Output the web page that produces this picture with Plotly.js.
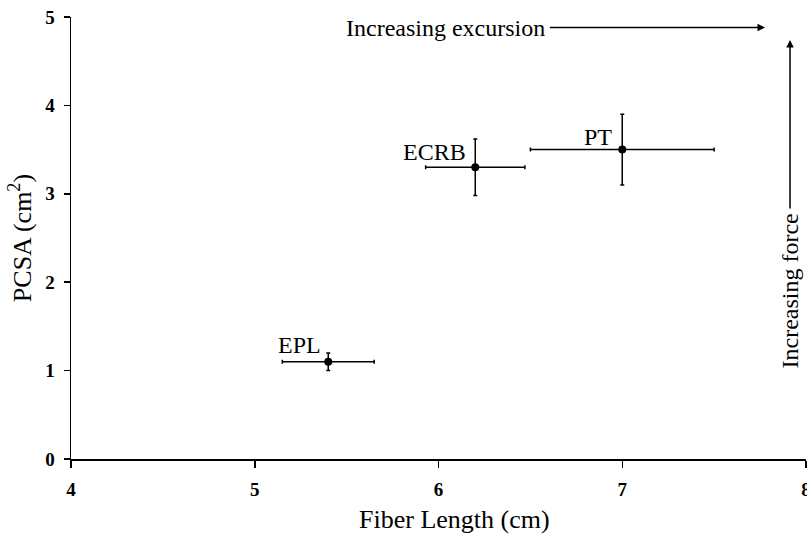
<!DOCTYPE html>
<html>
<head>
<meta charset="utf-8">
<script src="https://cdn.plot.ly/plotly-3.0.1.min.js"></script>
<style>html,body{margin:0;padding:0;background:#fff;}#chart{width:807px;height:535px;}</style>
</head>
<body>
<div id="chart"></div>
<script>
// Data
const muscles = ["EPL", "ECRB", "PT"];
const fiberLength = [5.4, 6.2, 7.0];
const fiberLengthErr = [0.25, 0.27, 0.5];
const pcsa = [1.1, 3.3, 3.5];
const pcsaErr = [0.1, 0.32, 0.4];
const xTicks = [4, 5, 6, 7, 8];
const yTicks = [0, 1, 2, 3, 4, 5];
const xTitle = "Fiber Length (cm)";
const yTitle = "PCSA (cm<sup>2</sup>)";

const FONT = "Liberation Serif, Times New Roman, serif";
const TXT = 24;
const TITLE = 26;

const trace = {
  type: "scatter",
  mode: "markers",
  x: fiberLength,
  y: pcsa,
  text: muscles,
  marker: {color: "#000", size: 8},
  error_x: {type: "data", array: fiberLengthErr, visible: true, color: "#000", thickness: 1.5, width: 2},
  error_y: {type: "data", array: pcsaErr, visible: true, color: "#000", thickness: 1.5, width: 2},
  hoverinfo: "text+x+y",
  showlegend: false
};

const labelOffsets = {EPL: [-29, 17], ECRB: [-41, 15], PT: [-24, 13]};
const labelAnns = muscles.map((m, i) => ({
  x: fiberLength[i], y: pcsa[i], xref: "x", yref: "y",
  text: m, showarrow: false,
  xshift: labelOffsets[m][0], yshift: labelOffsets[m][1],
  font: {family: FONT, size: TXT, color: "#000"}
}));

const layout = {
  width: 807, height: 535,
  margin: {l: 71, r: 1, t: 17, b: 76},
  paper_bgcolor: "#fff", plot_bgcolor: "#fff",
  font: {family: FONT, color: "#000"},
  xaxis: {
    range: [4, 8], tickvals: xTicks, ticktext: xTicks.map(String),
    showgrid: false, zeroline: false, showline: true, linecolor: "#000", linewidth: 1.5,
    ticks: "outside", ticklen: 7, tickwidth: 1.5, tickcolor: "#000",
    ticklabeloverflow: "allow", ticklabelstandoff: 6,
    tickfont: {family: FONT, size: 19, color: "#000", weight: "bold"},
    fixedrange: true
  },
  yaxis: {
    range: [0, 5], tickvals: yTicks, ticktext: yTicks.map(String),
    showgrid: false, zeroline: false, showline: true, linecolor: "#000", linewidth: 1.5,
    ticks: "outside", ticklen: 6, tickwidth: 1.5, tickcolor: "#000",
    ticklabelstandoff: 5,
    tickfont: {family: FONT, size: 19, color: "#000", weight: "bold"},
    title: {text: yTitle, font: {family: FONT, size: TITLE, color: "#000"}, standoff: 6},
    fixedrange: true
  },
  annotations: labelAnns.concat([
    {x: 0.522, y: 0, xref: "paper", yref: "paper", xanchor: "center", yanchor: "middle", yshift: -60,
     text: xTitle, showarrow: false, font: {family: FONT, size: TITLE, color: "#000"}},
    {x: 7.777, y: 4.88, ax: 6.04, ay: 4.88, xref: "x", yref: "y", axref: "x", ayref: "y",
     text: "Increasing excursion", showarrow: true, arrowhead: 2, arrowsize: 1, arrowwidth: 1.5,
     arrowcolor: "#000", borderpad: 4,
     font: {family: FONT, size: TXT, color: "#000"}},
    {x: 7.913, y: 4.74, ax: 7.913, ay: 1.895, xref: "x", yref: "y", axref: "x", ayref: "y",
     text: "Increasing force", showarrow: true, textangle: -90, arrowhead: 2, arrowsize: 1,
     arrowwidth: 1.5, arrowcolor: "#000", borderpad: 5,
     font: {family: FONT, size: TXT, color: "#000"}}
  ])
};

Plotly.newPlot("chart", [trace], layout, {displayModeBar: false, staticPlot: true});
</script>
</body>
</html>
